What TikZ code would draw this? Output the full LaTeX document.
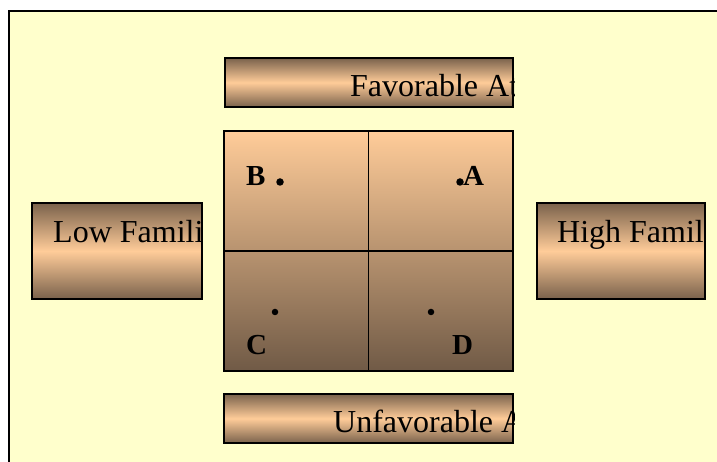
\documentclass[tikz,border=0pt]{standalone}
\usepackage{fontspec}
\setmainfont{Liberation Serif}
\definecolor{paleyellow}{RGB}{255,255,204}
\definecolor{peach}{RGB}{255,204,153}
\definecolor{barbrown}{RGB}{122,98,76}
\definecolor{gridbrown}{RGB}{112,90,70}

\begin{document}
\begin{tikzpicture}[x=1pt,y=1pt,line join=miter,
  bar/.style={draw=black,line width=2pt,inner sep=0pt,top color=barbrown,bottom color=barbrown,middle color=peach},
  bartext/.style={font=\fontsize{32}{38}\selectfont,anchor=base west,inner sep=0pt},
  pointlabel/.style={font=\fontsize{29}{34}\selectfont\bfseries,anchor=base west,inner sep=0pt},
  pointdot/.style={circle,fill=black,inner sep=0pt,minimum size=#1}]
\clip (0,0) rectangle (717,462);
\fill[white] (0,0) rectangle (717,462);
% frame
\fill[paleyellow] (9,451) rectangle (725,-5);
\draw[line width=2pt] (9,-5) -- (9,451) -- (725,451);
% quadrant grid
\node[draw=black,line width=1.3pt,inner sep=0pt,minimum width=289,minimum height=240,top color=peach,bottom color=gridbrown] (grid) at (368.5,211) {};
\draw[line width=1.3pt] (grid.north) -- (grid.south);
\draw[line width=1.3pt] (grid.west) -- (grid.east);
% bars
\node[bar,minimum width=288,minimum height=49] (fav) at (369,379.5) {};
\node[bar,minimum width=289,minimum height=49] (unfav) at (368.5,43.5) {};
\node[bar,minimum width=170,minimum height=96] (low) at (117,211) {};
\node[bar,minimum width=168,minimum height=96] (high) at (621,211) {};
\begin{scope}
\clip (fav.south west) rectangle (fav.north east);
\node[bartext] (favtext) at (350,365.5) {Favorable At};
\end{scope}
\begin{scope}
\clip (unfav.south west) rectangle (unfav.north east);
\node[bartext] (unfavtext) at (333,29) {Unfavorable A};
\end{scope}
\begin{scope}
\clip (low.south west) rectangle (low.north east);
\node[bartext] (lowtext) at (53,219) {Low Famili};
\end{scope}
\begin{scope}
\clip (high.south west) rectangle (high.north east);
\node[bartext] (hightext) at (557,219) {High Famil};
\end{scope}
% points
\node[pointlabel] (labB) at (246,276) {B};
\node[pointdot=7.5pt] (dotB) at (280,280) {};
\node[pointdot=7.5pt] (dotA) at (460,280) {};
\node[pointlabel] (labA) at (463,276) {A};
\node[pointdot=6.5pt] (dotC) at (275,150) {};
\node[pointlabel] (labC) at (246,107) {C};
\node[pointdot=6.5pt] (dotD) at (431,150) {};
\node[pointlabel] (labD) at (452,107) {D};
\end{tikzpicture}
\end{document}
